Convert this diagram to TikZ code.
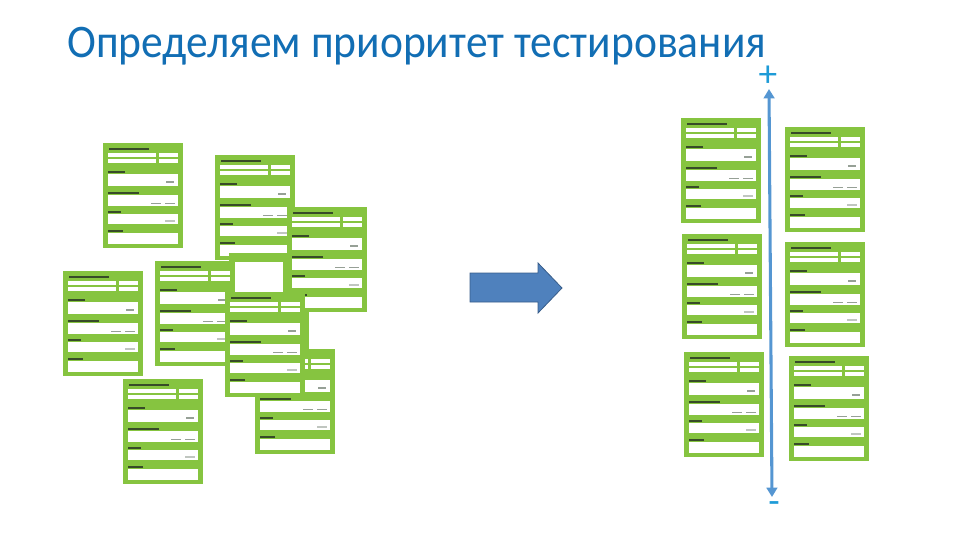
\documentclass[tikz,border=0pt]{standalone}
\usepackage{fontspec}
\setmainfont{Carlito}
\usetikzlibrary{arrows.meta}
\definecolor{cardgreen}{RGB}{134,196,64}
\definecolor{cardlabel}{RGB}{55,75,40}
\definecolor{titleblue}{RGB}{18,110,180}
\definecolor{signblue}{RGB}{30,155,215}
\definecolor{axisblue}{RGB}{85,150,210}
\definecolor{bigfill}{RGB}{79,129,189}
\definecolor{bigdraw}{RGB}{56,93,138}
\definecolor{markgray}{RGB}{150,160,150}
\tikzset{
  cardbody/.style={fill=cardgreen},
  field/.style={fill=white},
  lab/.style={fill=cardlabel},
  smallmark/.style={fill=markgray},
  card/.pic={
    \fill[cardbody] (0,0) rectangle (80,105);
    \fill[lab] (6,4.5) rectangle (46,6.8);
    \fill[field] (4.5,10) rectangle (53,13.5);
    \fill[field] (55.5,10) rectangle (75,13.5);
    \fill[field] (4.5,15.5) rectangle (53,19.5);
    \fill[field] (55.5,15.5) rectangle (75,19.5);
    \fill[lab] (4.5,28) rectangle (22,30);
    \fill[field] (4.5,31) rectangle (75,43);
    \fill[smallmark] (63,38) rectangle (71,40);
    \fill[lab] (4.5,48.5) rectangle (36,50.5);
    \fill[field] (4.5,52) rectangle (75,63);
    \fill[smallmark] (48,59.5) rectangle (58,61);
    \fill[smallmark] (62,59.5) rectangle (72,61);
    \fill[lab] (4.5,67.5) rectangle (18,69.5);
    \fill[field] (4.5,71) rectangle (75,81);
    \fill[markgray!60] (62,77) rectangle (72,78.5);
    \fill[lab] (4.5,86.5) rectangle (20,88.5);
    \fill[field] (4.5,90) rectangle (75,101);
  },
  axis/.style={draw=axisblue, line width=2.3pt,
    {Triangle[length=7pt,width=8pt]}-{Triangle[length=7pt,width=8pt]}},
  bigarrow/.style={fill=bigfill, draw=bigdraw, line width=0.6pt},
  sign/.style={text=signblue, font=\fontsize{28}{28}\selectfont, inner sep=0pt}
}
\begin{document}
\begin{tikzpicture}[x=0.75pt,y=-0.75pt]
\useasboundingbox (0,0) rectangle (960,540);

% title
\node[anchor=base west, inner sep=0pt, text=titleblue, xscale=0.933,
      text depth=0pt, font=\fontsize{35}{35}\selectfont] (title) at (67,57)
      {Определяем приоритет тестирования};

% left cluster
\pic at (103,143) {card};
\pic at (215,155) {card};
% partly hidden card
\fill[cardbody] (229,253) rectangle (309,358);
\fill[field] (235,262) rectangle (283,292);
\pic at (287,207) {card};
\pic at (255,349) {card};
\pic at (155,261) {card};
\pic at (225,292) {card};
\pic at (63,271) {card};
\pic at (123,379) {card};

% big arrow
\path[bigarrow] (470,273) -- (538,273) -- (538,263) -- (562,288)
   -- (538,313) -- (538,302) -- (470,302) -- cycle;

% right column
\pic at (681,118) {card};
\pic at (785,127) {card};
\pic at (682,234) {card};
\pic at (785,242) {card};
\pic at (684,352) {card};
\pic at (789,356) {card};

% priority axis
\coordinate (top) at (769,89);
\coordinate (bot) at (772,497);
\draw[axis] (top) -- (bot);
\node[sign] (plus) at (768,76) {+};
\node[sign] (minus) at (774,508) {-};
\end{tikzpicture}
\end{document}
